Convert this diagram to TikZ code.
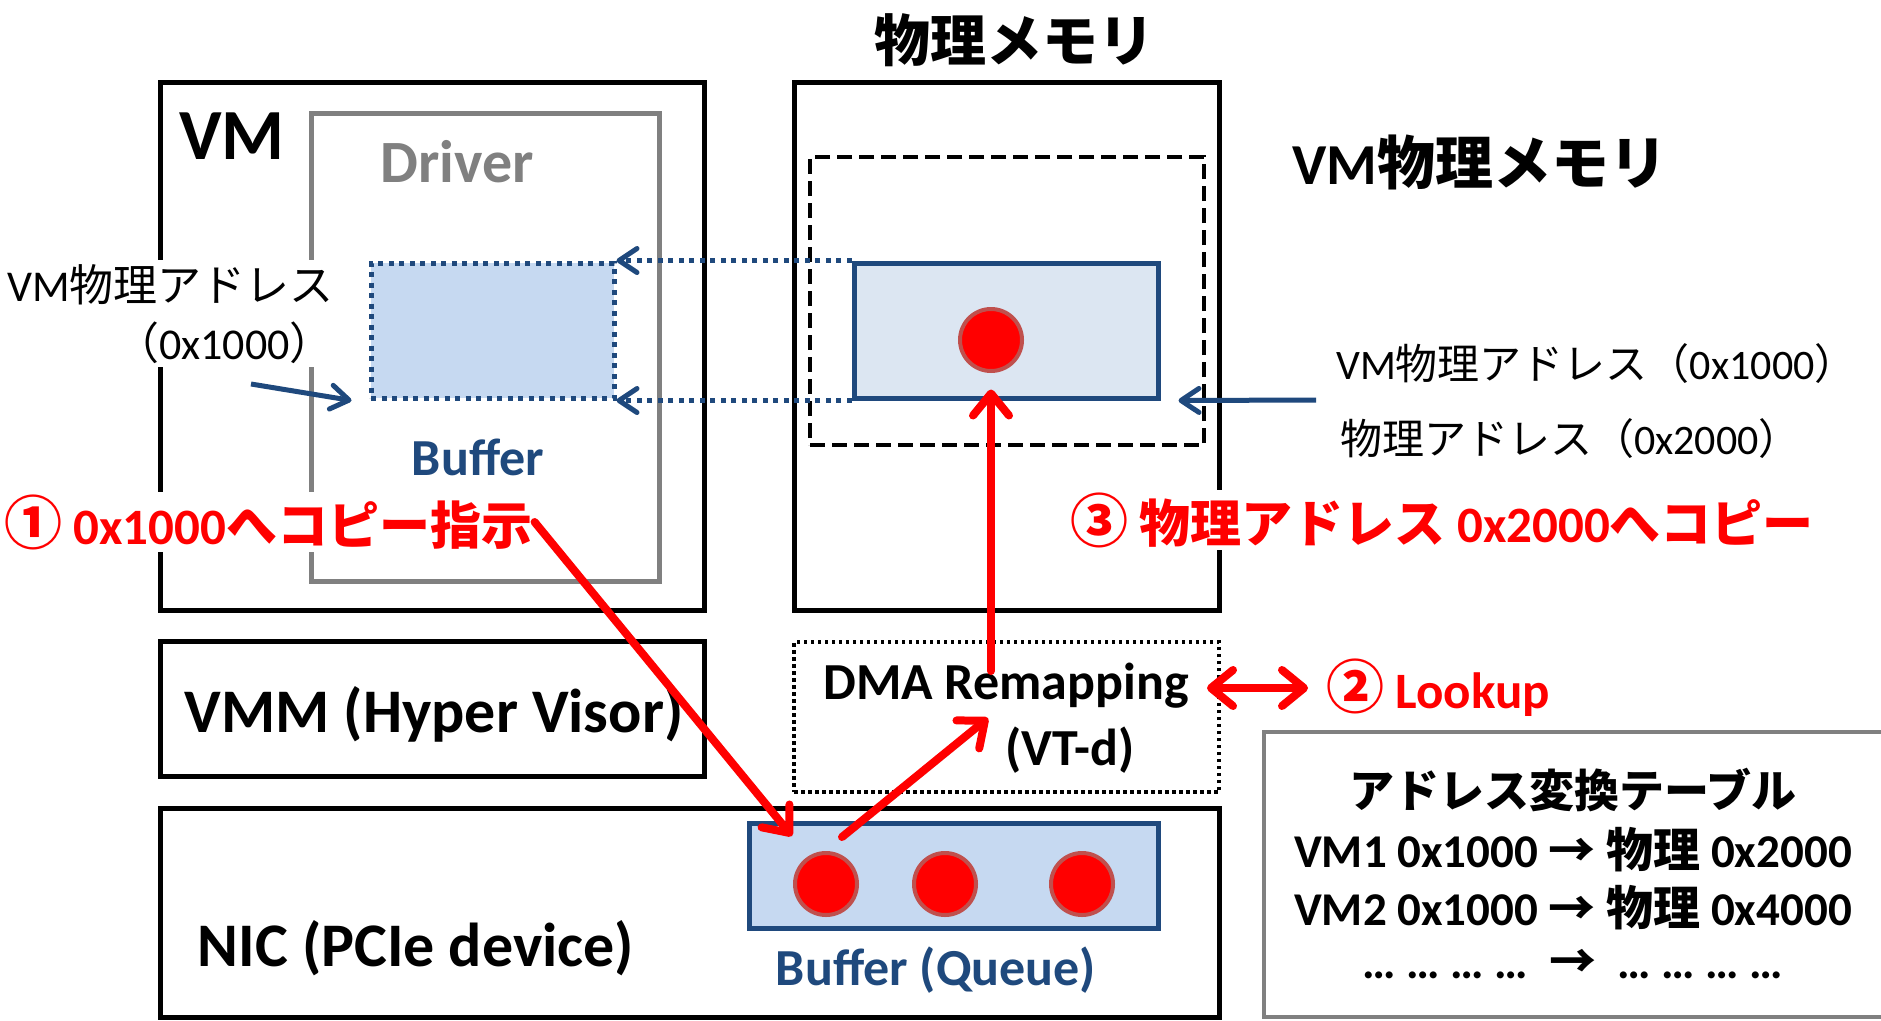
\documentclass[tikz,border=0pt]{standalone}
\usepackage{fontspec}
\setmainfont{Carlito}
\newfontfamily\cjk{Noto Sans CJK JP}
\usetikzlibrary{arrows.meta}
\definecolor{navy}{RGB}{31,73,125}
\definecolor{lightbuf}{RGB}{198,217,241}
\definecolor{paleblue}{RGB}{220,230,242}
\definecolor{ringred}{RGB}{192,80,77}
\definecolor{midgray}{RGB}{128,128,128}
\newcommand{\fs}[1]{\fontsize{#1}{#1}\selectfont}
\newcommand{\circnum}[1]{{\cjk\fs{58}#1}}
\begin{document}
\begin{tikzpicture}[x=1pt,y=-1pt,
		blackbox/.style={draw=black,line width=5pt,inner sep=0pt},
		graybox/.style={draw=midgray,line width=5pt,inner sep=0pt},
		dashbox/.style={draw=black,line width=4.5pt,dash pattern=on 15pt off 7pt,inner sep=0pt},
		dotbox/.style={draw=black,line width=3.5pt,dash pattern=on 3.5pt off 3.5pt,inner sep=0pt},
		dotbuf/.style={draw=navy,line width=5pt,dash pattern=on 5pt off 5.5pt,fill=lightbuf,inner sep=0pt},
		solidbuf/.style={draw=navy,line width=5pt,inner sep=0pt},
		packet/.style={circle,fill=red,draw=ringred,line width=4pt,minimum size=62pt,inner sep=0pt},
		redhead/.tip={Straight Barb[length=22pt,width=36pt,round]},
		bluehead/.tip={Straight Barb[length=18pt,width=24pt,round]},
		redarrow/.style={draw=red,line width=8pt,line cap=round,-redhead,
			preaction={draw=black,opacity=0.18,transform canvas={shift={(2.5pt,-3pt)}}}},
		bluearrow/.style={draw=navy,line width=5pt,-bluehead},
		dotarrow/.style={bluearrow,dash pattern=on 5pt off 5.5pt},
		boldtext/.style={font=\bfseries\fs{#1},inner sep=2pt},
		plaintext/.style={font=\fs{#1},inner sep=2pt},
		redtext/.style={text=red,fill=white,font=\bfseries\fs{51},inner sep=2pt},
		bluetext/.style={text=navy,font=\bfseries\fs{52},inner sep=2pt}]
	\useasboundingbox (0,0) rectangle (1881,1020);
	\clip (0,0) rectangle (1881,1020);
	\fill[white] (0,0) rectangle (1881,1020);
	% VM side
	\node[blackbox,minimum width=544pt,minimum height=528pt] (vm) at (432,346) {};
	\node[graybox,minimum width=348pt,minimum height=468pt] (driver) at (485,347) {};
	\node[boldtext=72] (vmlabel) at (232,136) {VM};
	\node[boldtext=60,text=midgray] (drvlabel) at (457,162) {Driver};
	\node[dotbuf,minimum width=243pt,minimum height=135pt] (vmbuf) at (492.5,330.5) {};
	\node[bluetext] (vmbuflabel) at (478,457) {Buffer};
	\node[plaintext=44,align=right,anchor=north east,fill=white,inner sep=4pt] (vmaddr) at (338,260)
		{VM{\cjk 物理アドレス}\\[14pt]{\cjk （}0x1000{\cjk ）}};
	\coordinate (vmaddrtail) at (251,384);
	\draw[bluearrow] (vmaddrtail) -- ([xshift=-17pt]vmbuf.south west);
	% physical memory
	\node[blackbox,minimum width=425pt,minimum height=528pt] (pmem) at (1006.5,346) {};
	\node[boldtext=56] (pmemlabel) at (1014,40) {{\cjk 物理メモリ}};
	\node[dashbox,minimum width=394pt,minimum height=288pt] (vmmem) at (1007,301) {};
	\node[boldtext=58,anchor=west] (vmmemlabel) at (1290,162) {VM{\cjk 物理メモリ}};
	\node[solidbuf,fill=paleblue,minimum width=304pt,minimum height=135pt] (pbuf) at (1006,330.5) {};
	\node[packet] (pkt0) at (991,340) {};
	\draw[dotarrow] (pbuf.north west) -- (vmbuf.north east);
	\draw[dotarrow] (pbuf.south west) -- (vmbuf.south east);
	\coordinate (addrtail) at (1316,400);
	\draw[bluearrow] (addrtail) -- ([xshift=18pt]pbuf.south east);
	\node[plaintext=42,anchor=west] (vmaddr2) at (1334,364) {VM{\cjk 物理アドレス（}0x1000{\cjk ）}};
	\node[plaintext=42,anchor=west] (paddr) at (1338,439) {{\cjk 物理アドレス（}0x2000{\cjk ）}};
	% VMM and DMA remapping
	\node[blackbox,minimum width=544pt,minimum height=135pt] (vmm) at (432,708.5) {};
	\node[boldtext=62] (vmmlabel) at (434,714) {VMM (Hyper Visor)};
	\node[dotbox,minimum width=425pt,minimum height=150pt] (dma) at (1006.5,717) {};
	\node[boldtext=52] (dmalabel) at (1006,686) {DMA Remapping};
	\node[boldtext=52] (vtdlabel) at (1070,750) {(VT-d)};
	% NIC
	\node[blackbox,minimum width=1059pt,minimum height=209pt] (nic) at (689.5,912.5) {};
	\node[boldtext=62] (niclabel) at (416,948) {NIC (PCIe device)};
	\node[solidbuf,fill=lightbuf,minimum width=409pt,minimum height=105pt] (queue) at (953.5,875.5) {};
	\node[packet] (pkt1) at (826,884) {};
	\node[packet] (pkt2) at (945,884) {};
	\node[packet] (pkt3) at (1082,884) {};
	\node[bluetext] (queuelabel) at (936,970) {Buffer (Queue)};
	% translation table
	\node[graybox,line width=4pt,minimum width=636pt,minimum height=285pt] (table) at (1582,874.5) {};
	\node[boldtext=45] (tabtitle) at (1573,790) {{\cjk アドレス変換テーブル}};
	\node[boldtext=47] (row1) at (1573,850) {VM1 0x1000 {\cjk →} {\cjk 物理} 0x2000};
	\node[boldtext=47] (row2) at (1573,908) {VM2 0x1000 {\cjk →} {\cjk 物理} 0x4000};
	\node[boldtext=47] (row3) at (1573,964) {… … … … \ {\cjk →} \ … … … …};
	% steps
	\node[redtext,anchor=west] (step1) at (2,522) {\circnum{①} 0x1000{\cjk へコピー指示}};
	\node[redtext,anchor=west] (step3) at (1068,520) {\circnum{③} {\cjk 物理アドレス} 0x2000{\cjk へコピー}};
	\node[redtext,anchor=west] (step2) at (1324,688) {\circnum{②} Lookup};
	\coordinate (qin) at (792,836);
	\coordinate (qout) at (842,837);
	\coordinate (dmain) at (988,718);
	\coordinate (dmaout) at (991,671);
	\coordinate (lookupl) at (1207,688);
	\coordinate (lookupr) at (1308,688);
	\draw[redarrow] (step1.east) -- (qin);
	\draw[redarrow] (qout) -- (dmain);
	\draw[redarrow] (dmaout) -- ([xshift=-15pt,yshift=11pt]pbuf.south);
	\draw[redarrow,redhead-redhead] (lookupl) -- (lookupr);
\end{tikzpicture}
\end{document}
